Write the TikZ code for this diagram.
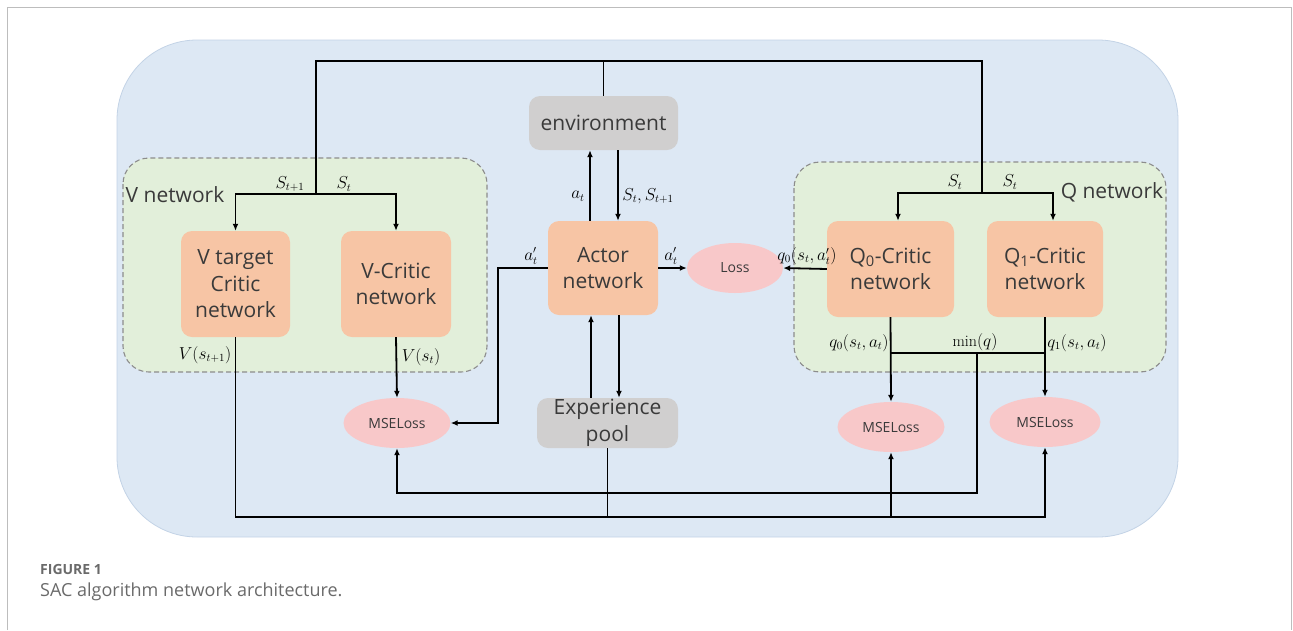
\documentclass[tikz,border=0pt]{standalone}
\usepackage{fontspec}
\setsansfont{Open Sans}
\usetikzlibrary{arrows.meta,shapes.geometric}
\definecolor{bgblue}{HTML}{DDE8F4}
\definecolor{bgedge}{HTML}{C3D3E6}
\definecolor{grpgreen}{HTML}{E2EFDA}
\definecolor{grpdash}{HTML}{8C8C8C}
\definecolor{critorange}{HTML}{F7C5A5}
\definecolor{boxgrey}{HTML}{D0CFCF}
\definecolor{losspink}{HTML}{F8C8C9}
\definecolor{txtgrey}{HTML}{3A3A3A}
\definecolor{framegrey}{HTML}{BDBDBD}
\definecolor{capgrey}{HTML}{6A6A6A}
\newcommand{\boxfont}{\sffamily\fontsize{21}{26.5}\selectfont}
\newcommand{\grpfont}{\sffamily\fontsize{21}{25}\selectfont}
\newcommand{\lossfont}{\sffamily\fontsize{14}{16}\selectfont}
\newcommand{\labfont}{\fontsize{16}{19}\selectfont}
\tikzset{
  netbox/.style={rounded corners=11pt, inner sep=0pt, align=center, font=\boxfont, text=txtgrey},
  critic/.style={netbox, fill=critorange},
  greybox/.style={netbox, fill=boxgrey},
  lossell/.style={ellipse, fill=losspink, inner sep=0pt, font=\lossfont, text=txtgrey},
  grp/.style={draw=grpdash, dashed, dash pattern=on 5pt off 3pt, line width=1.1pt, fill=grpgreen, rounded corners=26pt},
  wire/.style={line width=1.8pt},
  arr/.style={wire, -{Latex[length=7pt,width=6pt]}},
  lab/.style={font=\labfont, inner sep=1pt}
}
\begin{document}
\begin{tikzpicture}[x=1pt,y=-1pt]
\useasboundingbox (0,0) rectangle (1293,630);
\draw[framegrey, line width=1.5pt] (7.5,630) -- (7.5,7.5) -- (1291.5,7.5) -- (1291.5,630);
\draw[draw=bgedge, fill=bgblue, line width=0.8pt, rounded corners=80pt] (117,40) rectangle (1178,537);
% groups
\draw[grp] (123,158) rectangle (487,372);
\draw[grp] (794,162) rectangle (1166,372);
\node[font=\grpfont, text=txtgrey, inner sep=0pt] (vnet) at (175,195) {V network};
\node[font=\grpfont, text=txtgrey, inner sep=0pt] (qnet) at (1112,192) {Q network};
% boxes
\node[critic, minimum width=109pt, minimum height=106pt] (vt) at (235.5,284) {V target\\Critic\\network};
\node[critic, minimum width=110pt, minimum height=106pt] (vc) at (396,284) {V-Critic\\network};
\node[critic, minimum width=110pt, minimum height=94pt] (actor) at (603,268) {Actor\\network};
\node[critic, minimum width=127pt, minimum height=96pt] (qa) at (890.5,269) {Q\textsubscript{0}-Critic\\network};
\node[critic, minimum width=116pt, minimum height=96pt] (qb) at (1045,269) {Q\textsubscript{1}-Critic\\network};
\node[greybox, minimum width=149pt, minimum height=54pt] (env) at (603.5,123) {environment};
\node[greybox, minimum width=141pt, minimum height=50pt] (pool) at (607.5,423) {Experience\\pool};
\node[lossell, minimum width=96pt, minimum height=50pt] (loss) at (735,268) {Loss};
\node[lossell, minimum width=107pt, minimum height=50pt] (mse1) at (397,423) {MSELoss};
\node[lossell, minimum width=107pt, minimum height=50pt] (mse2) at (891,427) {MSELoss};
\node[lossell, minimum width=111pt, minimum height=50pt] (mse3) at (1045,422) {MSELoss};
% junctions
\coordinate (vs) at (316,194);
\coordinate (qs) at (982,193);
\coordinate (topl) at (316,61);
\coordinate (topr) at (982,61);
\coordinate (minq) at (977,353);
\coordinate (bus) at (607.5,517);
\coordinate (bus2) at (977,493);
% state wires
\draw[wire] (vs) -- (topl) -- (topr) -- (qs);
\draw[wire] (env.north) -- (env.north|-topl);
\draw[arr] (vs) -| (vt.north);
\draw[arr] (vs) -| (vc.north);
\draw[arr] (qs) -| ([xshift=7.5pt]qa.north);
\draw[arr] (qs) -| ([xshift=8pt]qb.north);
% actor wires
\draw[arr] ([xshift=-13pt]actor.north) -- ([xshift=-13pt]actor.north|-env.south);
\draw[arr] ([xshift=15pt]actor.north|-env.south) -- ([xshift=15pt]actor.north);
\draw[arr] ([xshift=-12pt]actor.south|-pool.north) -- ([xshift=-12pt]actor.south);
\draw[arr] ([xshift=16pt]actor.south) -- ([xshift=16pt]actor.south|-pool.north);
\draw[arr] (actor.east) -- (loss.west);
\draw[arr] (qa.west) -- (loss.east);
\draw[arr] (actor.west) -- ([xshift=-50pt]actor.west) |- (mse1.east);
% loss wires
\draw[arr] (vc.south) -- (mse1.north);
\draw[arr] (qa.south) -- (mse2.north);
\draw[arr] (qb.south) -- (mse3.north);
\draw[wire] (qa.south|-minq) -- (qb.south|-minq);
\draw[arr] (minq) -- (bus2) -| (mse1.south);
\draw[wire] (pool.south) -- (bus);
\draw[arr] (vt.south) |- (bus) -| (mse3.south);
\draw[arr] (mse2.south|-bus) -- (mse2.south);
% labels
\node[lab] (ls1) at (290,184) {$S_{t+1}$};
\node[lab] (ls2) at (344,184) {$S_t$};
\node[lab] (ls3) at (955,182) {$S_t$};
\node[lab] (ls4) at (1010,182) {$S_t$};
\node[lab] (lat) at (578,196) {$a_t$};
\node[lab] (lss) at (648,196) {$S_t,S_{t+1}$};
\node[lab] (la1) at (531,256) {$a'_t$};
\node[lab] (la2) at (671,256) {$a'_t$};
\node[lab] (lq0) at (807,256) {$q_0(s_t,a'_t)$};
\node[lab] (lv1) at (205,355) {$V(s_{t+1})$};
\node[lab] (lv2) at (421,357) {$V(s_t)$};
\node[lab] (lqa) at (859,343) {$q_0(s_t,a_t)$};
\node[lab] (lmin) at (975,342) {$\min(q)$};
\node[lab] (lqb) at (1077,343) {$q_1(s_t,a_t)$};
% caption
\node[anchor=west, inner sep=0pt, font=\sffamily\bfseries\fontsize{14}{16}\selectfont, text=capgrey] (fig) at (40,569) {FIGURE 1};
\node[anchor=west, inner sep=0pt, font=\sffamily\fontsize{18}{22}\selectfont, text=capgrey] (cap) at (40,592) {SAC algorithm network architecture.};
\end{tikzpicture}
\end{document}
